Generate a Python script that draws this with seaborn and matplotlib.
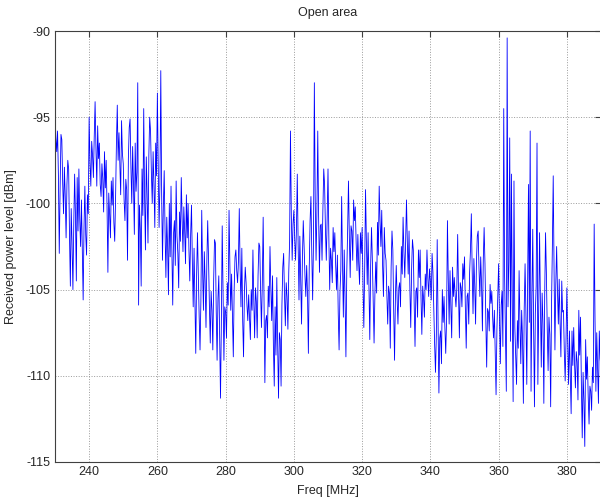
import numpy as np
import pandas as pd
import matplotlib
matplotlib.use("Agg")
import matplotlib.pyplot as plt
import seaborn as sns

# Sampling grid (MHz), 0.25 MHz spacing
freq_mhz = np.arange(230.0, 390.01, 0.25)

# Received power level [dBm] (one row per MHz)
power_dbm = [
    -94.6, -96.2, -97.0, -95.8,
    -98.4, -102.9, -99.1, -96.0,
    -96.3, -98.8, -100.6, -97.9,
    -99.6, -102.0, -98.9, -97.5,
    -98.0, -101.9, -104.8, -100.3,
    -102.4, -105.0, -101.2, -98.3,
    -100.7, -104.5, -98.5, -101.6,
    -98.0, -100.9, -102.5, -99.8,
    -102.6, -105.6, -101.4, -99.0,
    -101.8, -103.0, -99.5, -100.6,
    -95.0, -97.6, -99.0, -96.4,
    -97.2, -98.5, -96.1, -94.1,
    -96.8, -99.0, -95.5, -97.4,
    -96.5, -98.9, -99.6, -97.7,
    -98.6, -100.5, -97.0, -99.1,
    -97.5, -100.2, -104.0, -99.4,
    -100.6, -102.0, -98.7, -100.1,
    -98.5, -101.1, -102.2, -99.7,
    -96.5, -94.3, -97.5, -95.9,
    -97.8, -99.5, -95.2, -97.1,
    -97.7, -99.8, -101.0, -98.6,
    -99.2, -103.3, -97.4, -95.6,
    -95.1, -97.9, -100.0, -96.7,
    -98.9, -101.8, -96.5, -99.3,
    -98.2, -93.0, -105.9, -100.1,
    -101.5, -104.8, -98.0, -100.7,
    -94.5, -99.6, -102.7, -97.3,
    -99.5, -102.3, -97.2, -95.0,
    -95.8, -98.3, -100.0, -97.0,
    -99.0, -101.4, -96.5, -98.4,
    -93.6, -97.8, -101.4, -98.9,
    -92.3, -99.4, -103.3, -100.2,
    -98.1, -101.6, -104.3, -100.8,
    -102.5, -105.3, -100.0, -103.1,
    -99.0, -102.8, -105.9, -101.7,
    -101.0, -103.6, -98.7, -101.9,
    -102.9, -104.9, -100.5, -102.2,
    -98.5, -100.9, -102.8, -100.2,
    -101.6, -103.5, -99.5, -102.0,
    -100.0, -102.7, -104.5, -101.8,
    -100.1, -103.4, -106.0, -102.6,
    -105.8, -108.7, -104.1, -101.7,
    -104.2, -106.6, -108.5, -105.7,
    -100.4, -103.9, -106.2, -102.8,
    -104.6, -107.2, -103.3, -101.0,
    -103.3, -106.0, -108.1, -105.1,
    -106.2, -108.5, -104.4, -102.1,
    -102.3, -106.3, -109.1, -105.5,
    -104.2, -107.8, -111.3, -106.9,
    -101.3, -105.4, -109.1, -106.0,
    -106.3, -107.8, -104.6, -105.9,
    -100.4, -103.6, -106.2, -104.1,
    -106.4, -108.9, -105.0, -103.1,
    -102.7, -103.9, -104.6, -103.4,
    -100.3, -103.8, -106.0, -102.6,
    -106.8, -108.9, -105.2, -103.7,
    -104.6, -105.9, -106.8, -105.3,
    -106.6, -107.9, -105.0, -106.2,
    -102.7, -105.6, -107.8, -104.9,
    -105.7, -107.8, -104.2, -102.3,
    -102.5, -105.1, -107.2, -104.6,
    -100.8, -105.9, -110.4, -106.8,
    -106.5, -107.8, -104.8, -106.0,
    -102.5, -104.9, -106.8, -104.2,
    -108.3, -110.6, -106.0, -108.8,
    -104.3, -108.2, -111.3, -107.5,
    -107.9, -110.6, -105.9, -103.7,
    -102.9, -105.3, -107.1, -104.6,
    -105.4, -107.3, -104.0, -102.2,
    -95.8, -100.6, -103.3, -101.2,
    -100.4, -102.1, -103.3, -101.5,
    -98.3, -102.4, -105.6, -101.9,
    -104.5, -107.0, -103.2, -101.0,
    -102.5, -104.2, -105.4, -103.6,
    -105.3, -108.7, -103.8, -101.0,
    -99.6, -102.9, -105.6, -102.2,
    -93.0, -99.7, -103.3, -100.5,
    -95.8, -100.8, -104.0, -101.3,
    -101.2, -103.3, -100.4, -98.0,
    -98.9, -101.5, -103.3, -100.9,
    -98.0, -102.0, -105.0, -102.6,
    -103.3, -104.6, -101.4, -102.8,
    -101.7, -103.6, -105.0, -103.0,
    -106.4, -108.5, -105.2, -103.9,
    -99.6, -103.5, -106.6, -102.7,
    -105.5, -108.9, -104.0, -101.6,
    -98.7, -101.9, -104.3, -101.3,
    -101.6, -103.3, -99.8, -101.0,
    -100.2, -102.3, -103.9, -101.8,
    -103.5, -104.7, -101.7, -102.9,
    -101.4, -104.6, -107.2, -103.8,
    -99.2, -102.2, -104.7, -101.7,
    -104.9, -107.9, -103.6, -101.4,
    -103.3, -105.8, -108.1, -105.2,
    -103.4, -105.2, -101.1, -103.0,
    -99.0, -101.0, -102.5, -100.4,
    -103.6, -105.4, -101.4, -102.9,
    -103.3, -105.3, -107.0, -104.8,
    -105.2, -108.4, -103.7, -101.6,
    -102.7, -106.2, -109.1, -105.5,
    -103.6, -105.5, -107.0, -104.9,
    -104.6, -106.0, -102.5, -104.1,
    -100.8, -102.8, -104.3, -102.2,
    -99.8, -102.3, -104.1, -101.6,
    -105.0, -107.2, -103.8, -102.1,
    -102.7, -105.8, -108.3, -105.1,
    -104.9, -106.6, -102.7, -104.3,
    -102.7, -105.4, -107.6, -104.8,
    -105.5, -106.6, -104.1, -105.0,
    -102.7, -104.3, -105.4, -103.8,
    -104.5, -105.6, -102.9, -104.0,
    -106.2, -108.2, -109.8, -107.6,
    -102.1, -106.9, -111.0, -107.8,
    -107.4, -109.3, -105.0, -106.9,
    -105.4, -107.2, -108.7, -106.7,
    -101.0, -104.4, -107.0, -103.9,
    -106.0, -107.8, -103.7, -105.4,
    -104.3, -105.3, -106.0, -104.9,
    -101.8, -105.2, -107.8, -104.6,
    -104.9, -106.0, -103.5, -104.4,
    -103.1, -106.0, -108.4, -105.4,
    -105.2, -107.0, -104.0, -102.7,
    -100.6, -103.9, -106.4, -103.2,
    -104.8, -107.0, -103.4, -101.9,
    -101.6, -103.8, -105.4, -103.1,
    -104.7, -107.4, -103.3, -101.4,
    -103.5, -106.8, -109.5, -106.1,
    -106.3, -107.4, -104.7, -105.8,
    -105.1, -106.6, -107.8, -106.2,
    -108.6, -111.1, -107.3, -105.4,
    -103.5, -106.7, -109.3, -105.9,
    -105.1, -108.3, -94.5, -104.2,
    -107.5, -110.9, -90.4, -106.0,
    -103.4, -96.2, -108.0, -98.3,
    -105.7, -111.5, -98.7, -107.2,
    -108.9, -110.5, -106.8, -108.4,
    -103.9, -106.9, -109.3, -106.2,
    -107.8, -111.6, -106.1, -103.5,
    -106.4, -110.5, -104.9, -98.9,
    -106.9, -95.8, -110.9, -105.6,
    -101.5, -107.1, -111.8, -106.4,
    -104.8, -96.5, -110.5, -106.0,
    -101.7, -105.9, -109.5, -105.2,
    -107.0, -111.6, -105.3, -101.7,
    -104.1, -107.3, -109.7, -106.6,
    -107.6, -111.8, -105.9, -102.5,
    -98.4, -104.0, -108.5, -104.7,
    -102.5, -105.1, -107.0, -104.4,
    -106.9, -108.9, -104.5, -106.3,
    -106.2, -108.6, -110.3, -107.9,
    -104.9, -108.1, -110.5, -107.4,
    -110.0, -112.2, -107.4, -109.4,
    -107.2, -109.3, -110.7, -108.6,
    -109.2, -111.4, -106.2, -108.8,
    -106.6, -110.5, -113.6, -109.8,
    -111.5, -114.1, -107.9, -110.2,
    -108.9, -111.2, -112.8, -110.6,
    -110.9, -112.0, -109.5, -110.4,
    -101.2, -106.8, -110.9, -107.5,
    -109.6, -111.6, -107.4, -109.0,
    -109.5,
]

x_ticks = [240, 260, 280, 300, 320, 340, 360, 380]
y_ticks = [-115, -110, -105, -100, -95, -90]
title_text = "Open area"
x_label = "Freq [MHz]"
y_label = "Received power level [dBm]"

n = min(len(freq_mhz), len(power_dbm))
df = pd.DataFrame({"freq": freq_mhz[:n], "power": power_dbm[:n]})

sns.set_style("white")
plt.rcParams["font.family"] = ["Liberation Sans", "DejaVu Sans"]
plt.rcParams["axes.unicode_minus"] = False

fig = plt.figure(figsize=(6.0, 4.97), dpi=100)
ax = fig.add_axes([55 / 600, 35 / 497, 546 / 600, 431 / 497])

sns.lineplot(data=df, x="freq", y="power", ax=ax, color="#0000ff",
             linewidth=0.6, estimator=None, sort=False)

ax.set_xlim(230, 390)
ax.set_ylim(-115, -90)
ax.set_xticks(x_ticks)
ax.set_yticks(y_ticks)
ax.grid(True, linestyle=":", color="#9a9a9a", linewidth=0.7)
ax.set_axisbelow(True)

for side in ["left", "bottom", "top", "right"]:
    ax.spines[side].set_color("#404040")
    ax.spines[side].set_linewidth(0.8)
    ax.spines[side].set_visible(True)

ax.tick_params(direction="in", length=4, width=0.8, color="#404040",
               labelsize=9, pad=3, top=True, right=True)

ax.set_title(title_text, fontsize=9, pad=11)
ax.set_xlabel(x_label, fontsize=9, labelpad=5)
ax.set_ylabel(y_label, fontsize=9, labelpad=6)

fig.savefig("out.png", dpi=100)
